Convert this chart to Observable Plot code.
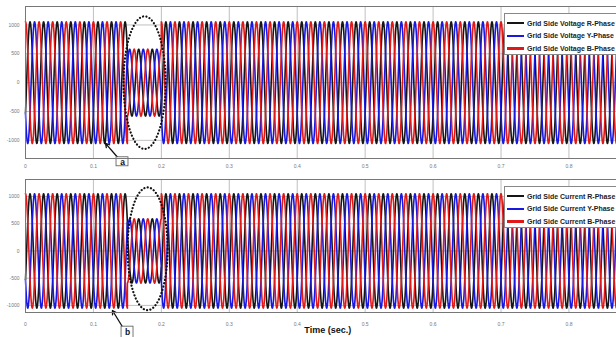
<!DOCTYPE html>
<html><head><meta charset="utf-8">
<script src="https://cdn.jsdelivr.net/npm/d3@7"></script>
<script src="https://cdn.jsdelivr.net/npm/@observablehq/plot@0.6"></script>
<style>
body{margin:0;background:#fff;width:616px;height:337px;overflow:hidden;font-family:"Liberation Sans",Arial,sans-serif}
#wrap{position:relative;width:616px;height:337px;overflow:hidden}
#wrap svg{display:block}
.legend{position:absolute;left:504px;width:130px;height:40px;background:#fff;border:1px solid #888}
.row{position:absolute;left:2px;height:10px;display:flex;align-items:center;white-space:nowrap;font-weight:bold;font-size:7px;color:#222}
.sw{width:17px;height:2.6px;margin-right:3px}
</style></head>
<body><div id="wrap"></div>
<script>
// ---- data ----
const phaseNames = ["R-Phase", "Y-Phase", "B-Phase"];
const phaseShiftDeg = [-120, 120, 0];
const freqHz = 50;
const segmentStart = [0, 0.15, 0.2];
const segmentEnd = [0.15, 0.2, 0.87];
const voltageAmplitude = [1055, 580, 1055];
const currentAmplitude = [1050, 590, 1050];
const xTicks = [0, 0.1, 0.2, 0.3, 0.4, 0.5, 0.6, 0.7, 0.8];
const yTicks = [-1000, -500, 0, 500, 1000];
const voltageLegend = ["Grid Side Voltage R-Phase", "Grid Side Voltage Y-Phase", "Grid Side Voltage B-Phase"];
const currentLegend = ["Grid Side Current R-Phase", "Grid Side Current Y-Phase", "Grid Side Current B-Phase"];
const phaseColors = ["#151515", "#1818e0", "#e01818"];

function waveform(amps) {
  const rows = [];
  phaseNames.forEach((p, k) => {
    for (let s = 0; s < segmentStart.length; s++) {
      const n = Math.round((segmentEnd[s] - segmentStart[s]) / 0.0004);
      for (let i = 0; i <= n; i++) {
        const t = segmentStart[s] + (segmentEnd[s] - segmentStart[s]) * i / n;
        rows.push({phase: p, t, v: amps[s] * Math.cos(2 * Math.PI * freqHz * t + phaseShiftDeg[k] * Math.PI / 180)});
      }
    }
  });
  return rows;
}
function ellipse(cx, cy, rx, ry) {
  const pts = [];
  for (let i = 0; i <= 120; i++) {
    const a = 2 * Math.PI * i / 120;
    pts.push({t: cx + rx * Math.cos(a), v: cy + ry * Math.sin(a)});
  }
  return pts;
}

function panel(opts) {
  return Plot.plot({
    width: 616, height: opts.height,
    marginLeft: 25, marginRight: 0, marginTop: opts.mt, marginBottom: opts.mb,
    style: {fontFamily: "Liberation Sans, Arial, sans-serif", background: "white", overflow: "visible"},
    x: {domain: [0, 0.87]},
    y: {domain: opts.ydom},
    color: {domain: phaseNames, range: phaseColors},
    marks: [
      Plot.gridX(xTicks, {stroke: "#b0b0b0", strokeOpacity: 1, strokeWidth: 0.8}),
      Plot.gridY(yTicks, {stroke: "#b0b0b0", strokeOpacity: 1, strokeWidth: 0.8}),
      Plot.line(waveform(opts.amps), {x: "t", y: "v", z: "phase", stroke: "phase", strokeWidth: 1.6}),
      Plot.line(ellipse(...opts.ell), {x: "t", y: "v", stroke: "#111", strokeWidth: 2.2, strokeDasharray: "0.1 3.3", strokeLinecap: "round"}),
      Plot.arrow([opts.arrow], {x1: "x1", y1: "y1", x2: "x2", y2: "y2", stroke: "#111", strokeWidth: 1.3, headLength: 5, bend: 0}),
      Plot.rect([opts.box], {x1: "x1", x2: "x2", y1: "y1", y2: "y2", fill: "white", stroke: "#555", strokeWidth: 0.8}),
      Plot.text([opts.box], {x: d => (d.x1 + d.x2) / 2, y: "ty", text: "label", fontSize: 8.5, fontWeight: "bold", fill: "#111"}),
      Plot.frame({stroke: "#777", strokeWidth: 1}),
      Plot.axisX({ticks: xTicks, tickSize: 0, tickPadding: opts.xpad, fontSize: 5, fill: "#777", tickFormat: d => String(d), label: null}),
      Plot.axisY({ticks: yTicks, tickSize: 0, tickPadding: 6, fontSize: 5, fill: "#777", tickFormat: d => String(d), label: null}),
      ...(opts.xlabel ? [Plot.text([opts.xlabel], {x: 0.445, frameAnchor: "bottom", dy: 20, text: d => d, fontSize: 9, fontWeight: "bold", fill: "#111"})] : [])
    ]
  });
}

const topPanel = panel({
  height: 170, mt: 6, mb: 12, ydom: [-1315, 1320], amps: voltageAmplitude, xpad: 6,
  ell: [0.1753, 0, 0.031, 1150],
  arrow: {x1: 0.1355, y1: -1294, x2: 0.1178, y2: -1052},
  box: {x1: 0.134, x2: 0.1516, y1: -1294, y2: -1450, ty: -1380, label: "a"}
});
const bottomPanel = panel({
  height: 167, mt: 9, mb: 25, ydom: [-1130, 1312], amps: currentAmplitude, xpad: 10,
  ell: [0.1797, 40, 0.0295, 1128],
  arrow: {x1: 0.1443, y1: -1424, x2: 0.128, y2: -1093},
  box: {x1: 0.1414, x2: 0.159, y1: -1390, y2: -1650, ty: -1500, label: "b"},
  xlabel: "Time (sec.)"
});

const wrap = document.getElementById("wrap");
wrap.appendChild(topPanel);
wrap.appendChild(bottomPanel);

function legend(topPx, labels) {
  const box = document.createElement("div");
  box.className = "legend";
  box.style.top = topPx + "px";
  labels.forEach((lab, i) => {
    const r = document.createElement("div");
    r.className = "row";
    r.style.top = (4 + i * 12.8) + "px";
    const sw = document.createElement("span");
    sw.className = "sw";
    sw.style.background = phaseColors[i];
    const tx = document.createElement("span");
    tx.textContent = lab;
    r.appendChild(sw); r.appendChild(tx);
    box.appendChild(r);
  });
  wrap.appendChild(box);
}
legend(13, voltageLegend);
legend(186, currentLegend);
</script>
</body></html>
